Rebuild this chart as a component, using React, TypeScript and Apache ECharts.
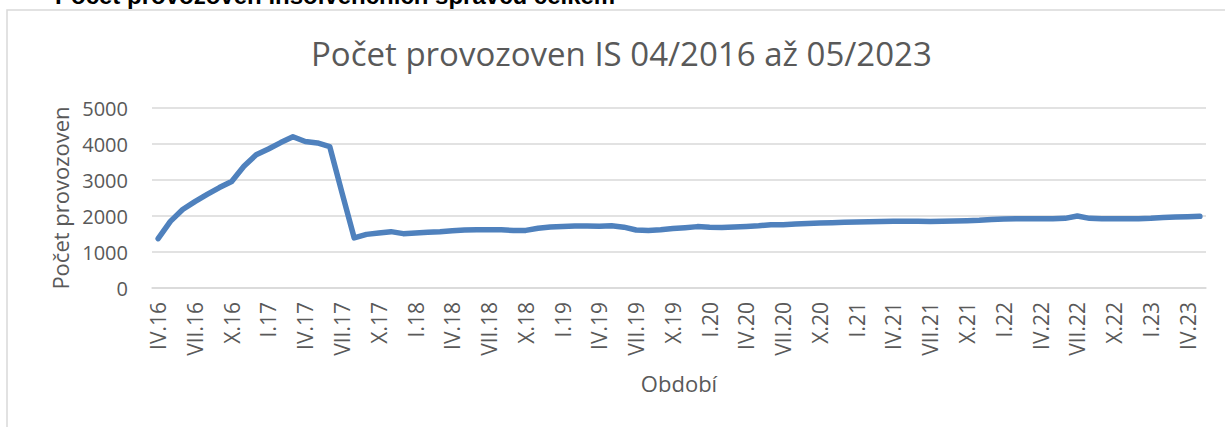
import React, { useEffect, useRef } from "react";
import * as echarts from "echarts";

const ROMAN = ["I", "II", "III", "IV", "V", "VI", "VII", "VIII", "IX", "X", "XI", "XII"];
const START_YEAR = 16;
const START_MONTH = 4;

const VALUES = [
  1370, 1850, 2180, 2400, 2600, 2790, 2960, 3380, 3700, 3860, 4040, 4200,
  4070, 4030, 3930, 2650, 1390, 1490, 1530, 1565, 1510, 1530, 1550, 1565,
  1590, 1610, 1620, 1620, 1615, 1600, 1600, 1660, 1695, 1710, 1720, 1720,
  1715, 1730, 1690, 1610, 1600, 1620, 1650, 1675, 1705, 1685, 1680, 1695,
  1710, 1730, 1760, 1760, 1780, 1790, 1805, 1815, 1825, 1835, 1840, 1850,
  1855, 1855, 1855, 1850, 1855, 1860, 1870, 1880, 1900, 1915, 1925, 1925,
  1925, 1925, 1935, 2000, 1935, 1925, 1925, 1925, 1925, 1935, 1955, 1970,
  1980, 1990,
];

const CATEGORIES = VALUES.map((_, i) => {
  const k = START_MONTH - 1 + i;
  return `${ROMAN[k % 12]}.${START_YEAR + Math.floor(k / 12)}`;
});

const TITLE = "Počet provozoven IS 04/2016 až 05/2023";
const HEADER = "Počet provozoven insolvenčních správců celkem";
const X_NAME = "Období";
const Y_NAME = "Počet provozoven";

const GRAY = "#595959";
const GRID = "#d9d9d9";
const FONT = "Open Sans";

export default function App() {
  const ref = useRef<HTMLDivElement>(null);
  useEffect(() => {
    if (!ref.current) return;
    const chart = echarts.init(ref.current, undefined, { renderer: "svg" });
    chart.setOption({
      animation: false,
      backgroundColor: "#ffffff",
      title: {
        text: TITLE,
        left: 306,
        top: 32,
        textStyle: { fontFamily: FONT, fontSize: 33, fontWeight: "normal", color: GRAY },
      },
      grid: { left: 152, right: 19, top: 108, bottom: 139, containLabel: false },
      xAxis: {
        type: "category",
        data: CATEGORIES,
        boundaryGap: true,
        axisLine: { lineStyle: { color: GRID, width: 1.5 } },
        axisTick: { interval: 2, length: 6, lineStyle: { color: GRID, width: 1.5 } },
        axisLabel: {
          interval: 2,
          rotate: 90,
          color: GRAY,
          fontSize: 21,
          fontFamily: FONT,
          margin: 14,
        },
        name: X_NAME,
        nameLocation: "middle",
        nameGap: 84,
        nameTextStyle: { color: GRAY, fontSize: 22, fontFamily: FONT },
      },
      yAxis: {
        type: "value",
        min: 0,
        max: 5000,
        interval: 1000,
        axisLine: { show: false },
        axisTick: { show: false },
        axisLabel: {
          color: GRAY,
          fontSize: 20,
          fontFamily: FONT,
          margin: 24,
          formatter: (v: number) => String(v),
        },
        splitLine: { lineStyle: { color: GRID, width: 1.5 } },
        name: Y_NAME,
        nameLocation: "middle",
        nameGap: 78,
        nameTextStyle: { color: GRAY, fontSize: 22, fontFamily: FONT },
      },
      series: [
        {
          type: "line",
          data: VALUES,
          symbol: "none",
          showSymbol: false,
          lineStyle: { color: "#4f81bd", width: 5.5, cap: "round", join: "round" },
        },
      ],
      graphic: [
        {
          type: "polyline",
          z: -1,
          shape: { points: [[7, 440], [7, 10], [1240, 10]] },
          style: { fill: "none", stroke: GRID, lineWidth: 1.5 },
        },
        {
          type: "text",
          x: 55,
          y: 7,
          style: {
            text: HEADER,
            font: 'bold 24px "Liberation Sans"',
            fill: "#000000",
            textVerticalAlign: "bottom",
            verticalAlign: "bottom",
          },
        },
      ],
    });
    return () => chart.dispose();
  }, []);
  return (
    <div
      ref={ref}
      style={{ position: "fixed", left: 0, top: 0, width: 1225, height: 427, background: "#fff" }}
    />
  );
}
